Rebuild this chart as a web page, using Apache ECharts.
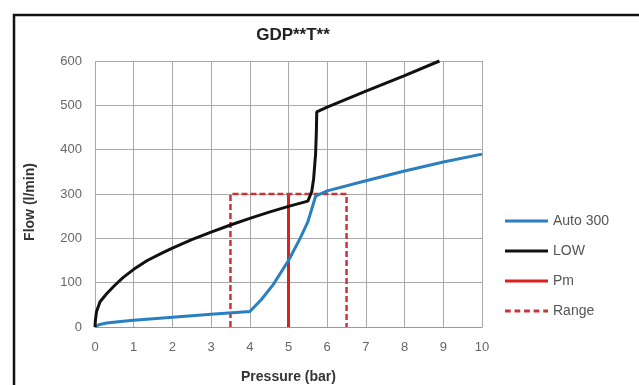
<!DOCTYPE html>
<html><head><meta charset="utf-8">
<script src="https://cdn.jsdelivr.net/npm/echarts@6/dist/echarts.min.js"></script>
<style>html,body{margin:0;padding:0;background:#fff}#c{width:639px;height:385px}</style>
</head><body><div id="c"></div>
<script>
var title = 'GDP**T**';
var legendNames = ['Auto 300','LOW','Pm','Range'];
var autoX = [0, 0.1, 0.3, 0.6, 1, 2, 3, 4, 4.3, 4.6, 5, 5.3, 5.5, 5.7, 6, 7, 8, 9, 10];
var autoY = [0, 5, 9, 12, 15, 22, 29, 35, 62, 95, 150, 200, 237, 295, 307, 330, 352, 372, 390];
var lowX = [0, 0.01, 0.04, 0.13, 0.3, 0.5, 0.73, 1, 1.35, 1.74, 2, 2.5, 3, 3.5, 4, 4.5, 5, 5.5, 5.6, 5.65, 5.7, 5.72, 5.73, 6, 7, 8, 8.9];
var lowY = [0, 15, 35, 57, 75, 93, 112, 130, 150, 167, 178, 197, 214, 230, 245, 259, 272, 284, 305, 335, 390, 440, 485, 496, 532, 567, 600];
var pmX = [5, 5];
var pmY = [0, 300];
var rangeX = [3.5, 3.5, 6.5, 6.5];
var rangeY = [0, 300, 300, 0];
function pts(xs, ys){ return xs.map(function(x,i){return [x, ys[i]];}); }
var solidIcon = 'path://M0,0h45v3h-45z';
var dashIcon = 'path://M0,0h6v3h-6zM10,0h6v3h-6zM20,0h6v3h-6zM30,0h6v3h-6zM40,0h5v3h-5z';
var chart = echarts.init(document.getElementById('c'));
chart.setOption({
  animation:false,
  backgroundColor:'#fff',
  title:{text:title,left:288,top:22,textAlign:'center',textStyle:{fontFamily:'Liberation Sans',fontSize:17,fontWeight:'bold',color:'#222'}},
  grid:{left:95,right:157,top:61,bottom:58,outerBoundsMode:'none',containLabel:false},
  xAxis:{type:'value',min:0,max:10,interval:1,
    name:'Pressure (bar)',nameLocation:'middle',nameGap:43,
    nameTextStyle:{fontFamily:'Liberation Sans',fontSize:14,fontWeight:'bold',color:'#333'},
    axisLine:{show:true,lineStyle:{color:'#999'}},axisTick:{show:false},
    axisLabel:{fontFamily:'Liberation Sans',fontSize:13,color:'#666',margin:14},
    splitLine:{show:true,lineStyle:{color:'#a8a8a8',width:1}}},
  yAxis:{type:'value',min:0,max:600,interval:100,
    name:'Flow (l/min)',nameLocation:'middle',nameGap:58,nameRotate:90,
    nameTextStyle:{fontFamily:'Liberation Sans',fontSize:14,fontWeight:'bold',color:'#333',padding:[0,16,0,0]},
    axisLine:{show:false},axisTick:{show:false},
    axisLabel:{fontFamily:'Liberation Sans',fontSize:13,color:'#666',margin:13},
    splitLine:{show:true,lineStyle:{color:'#a8a8a8',width:1}}},
  legend:{orient:'vertical',left:500,top:209,itemWidth:43,itemHeight:3,itemGap:16,
    textStyle:{fontFamily:'Liberation Sans',fontSize:14,color:'#555'},
    data:[
      {name:legendNames[0],icon:solidIcon},
      {name:legendNames[1],icon:solidIcon},
      {name:legendNames[2],icon:solidIcon},
      {name:legendNames[3],icon:dashIcon}
    ]},
  graphic:[{type:'rect',shape:{x:14,y:15,width:700,height:420},style:{fill:'none',stroke:'#111',lineWidth:2.5},silent:true}],
  series:[
    {name:legendNames[0],type:'line',symbol:'none',smooth:false,data:pts(autoX,autoY),lineStyle:{color:'#2a7fc0',width:3},itemStyle:{color:'#2a7fc0'},z:3},
    {name:legendNames[1],type:'line',symbol:'none',smooth:false,data:pts(lowX,lowY),lineStyle:{color:'#111',width:3},itemStyle:{color:'#111'},z:4},
    {name:legendNames[2],type:'line',symbol:'none',data:pts(pmX,pmY),lineStyle:{color:'#d9211e',width:3},itemStyle:{color:'#d9211e'},z:2},
    {name:legendNames[3],type:'line',symbol:'none',data:pts(rangeX,rangeY),lineStyle:{color:'#c8343a',width:2.5,type:[6,3]},itemStyle:{color:'#c8343a'},z:2}
  ]
});
</script></body></html>
